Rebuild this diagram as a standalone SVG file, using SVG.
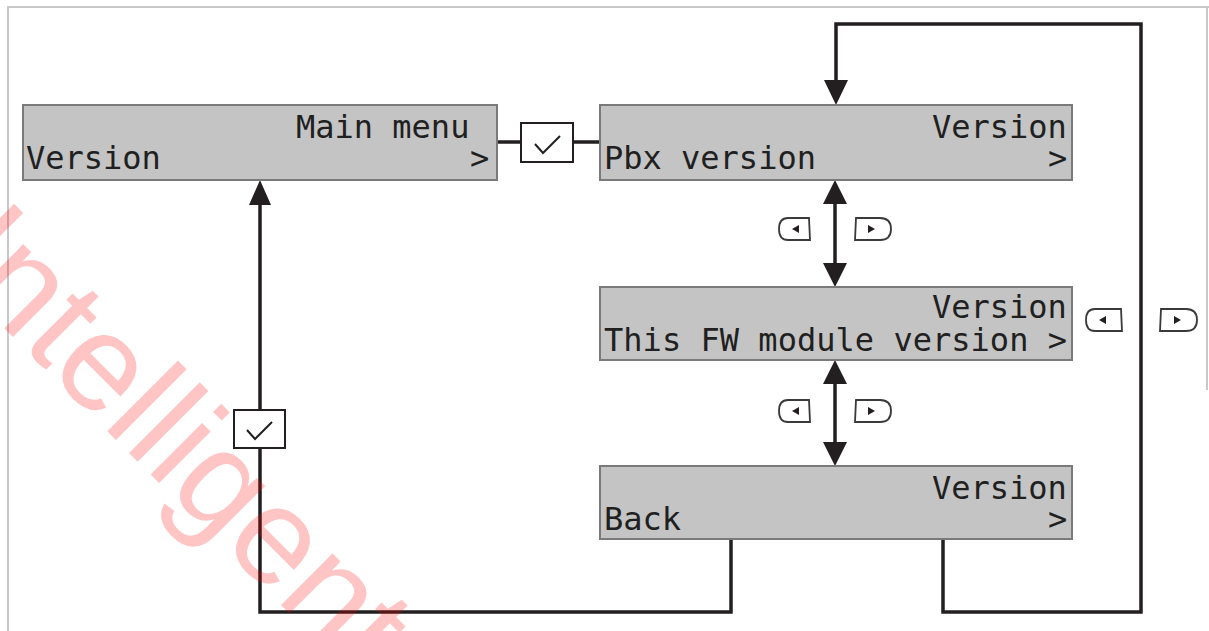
<svg xmlns="http://www.w3.org/2000/svg" width="1209" height="631" viewBox="0 0 1209 631">
<style>
.box{fill:#c4c4c4;stroke:#7a7a7a;stroke-width:2}
.lcd{font-family:"DejaVu Sans Mono","Liberation Mono",monospace;font-size:32px;fill:#202020}
.ln{fill:none;stroke:#231f20;stroke-width:3.5;stroke-linejoin:miter}
.ah{fill:#231f20}
.chk{fill:#fff;stroke:#231f20;stroke-width:2}
.tick{fill:none;stroke:#231f20;stroke-width:2}
.btn{fill:#fff;stroke:#3a3a3a;stroke-width:1.8}
.tri{fill:#231f20}
.frame{stroke:#c8c8c8;stroke-width:2;fill:none}
</style>
<rect width="1209" height="631" fill="#fff"/>
<g id="frame">
<path class="frame" d="M8 631 V7 H1209"/>
<path class="frame" d="M1207 7 V390"/>
</g>
<g id="connectors">
<path class="ln" d="M497 142 H521 M573 142 H600"/>
<path class="ln" d="M835 200 V268"/>
<path class="ah" d="M835 180 L823 204 L847 204 Z"/>
<path class="ah" d="M835 287 L823 263 L847 263 Z"/>
<path class="ln" d="M835 380 V447"/>
<path class="ah" d="M835 360 L823 384 L847 384 Z"/>
<path class="ah" d="M835 466 L823 442 L847 442 Z"/>
<path class="ln" d="M943 539 V612 H1141 V24 H836 V85"/>
<path class="ah" d="M836 105 L824 80 L848 80 Z"/>
<path class="ln" d="M731 539 V612 H260 V200"/>
<path class="ah" d="M260 180 L249 205 L271 205 Z"/>
</g>
<g id="node-main-menu">
<rect class="box" x="23" y="105" width="474" height="75"/>
<text class="lcd" x="296" y="138">Main menu</text>
<text class="lcd" x="26" y="169">Version</text>
<text class="lcd" x="470" y="169">&gt;</text>
</g>
<g id="node-pbx-version">
<rect class="box" x="600" y="105" width="472" height="75"/>
<text class="lcd" x="932" y="138">Version</text>
<text class="lcd" x="604" y="169">Pbx version</text>
<text class="lcd" x="1048" y="169">&gt;</text>
</g>
<g id="node-fw-version">
<rect class="box" x="600" y="287" width="472" height="73"/>
<text class="lcd" x="932" y="318">Version</text>
<text class="lcd" x="604" y="351" textLength="463" lengthAdjust="spacing">This FW module version &gt;</text>
</g>
<g id="node-back">
<rect class="box" x="600" y="466" width="472" height="73"/>
<text class="lcd" x="932" y="499">Version</text>
<text class="lcd" x="604" y="530">Back</text>
<text class="lcd" x="1048" y="530">&gt;</text>
</g>
<g id="check-1">
<rect class="chk" x="521" y="123" width="52" height="39"/>
<path class="tick" d="M535 144 L543 153 L560 136"/>
</g>
<g id="check-2">
<rect class="chk" x="234" y="410" width="51" height="38"/>
<path class="tick" d="M247 430 L255 439 L272 422"/>
</g>
<g id="buttons-1">
<path class="btn" d="M809 218 H788 Q779 218 779 229 Q779 240 788 240 H810 Z"/>
<path class="tri" d="M792 229 L799 225 L799 233 Z"/>
<path class="btn" d="M856 218 H880 Q891 218 891 229 Q891 240 880 240 H855 Z"/>
<path class="tri" d="M875 229 L868 225 L868 233 Z"/>
</g>
<g id="buttons-2">
<path class="btn" d="M809 400 H788 Q779 400 779 411 Q779 422 788 422 H810 Z"/>
<path class="tri" d="M792 411 L799 407 L799 415 Z"/>
<path class="btn" d="M856 400 H880 Q891 400 891 411 Q891 422 880 422 H855 Z"/>
<path class="tri" d="M875 411 L868 407 L868 415 Z"/>
</g>
<g id="buttons-3">
<path class="btn" d="M1121 309 H1095 Q1086 309 1086 320 Q1086 331 1095 331 H1122 Z"/>
<path class="tri" d="M1099 320 L1106 316 L1106 324 Z"/>
<path class="btn" d="M1161 309 H1186 Q1197 309 1197 320 Q1197 331 1186 331 H1160 Z"/>
<path class="tri" d="M1181 320 L1174 316 L1174 324 Z"/>
</g>
<g id="watermark">
<text x="0" y="0" transform="translate(-62 262) rotate(45)" font-family="Liberation Sans, Arial, sans-serif" font-size="138" fill="#ff0000" fill-opacity="0.23">Intelligent</text>
</g>
</svg>
